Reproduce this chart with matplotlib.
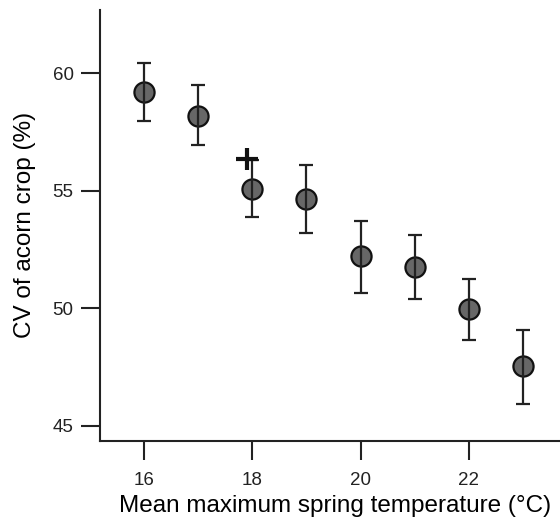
import numpy as np
import matplotlib.pyplot as plt

plt.rcParams['font.family'] = ['Liberation Sans', 'DejaVu Sans']

# data
temp = [16, 17, 18, 19, 20, 21, 22, 23]
cv = [59.2, 58.2, 55.1, 54.67, 52.21, 51.76, 49.96, 47.53]
err_hi = [60.46, 59.49, 56.3, 56.10, 53.73, 53.12, 51.26, 49.09]
err_lo = [57.96, 56.94, 53.89, 53.22, 50.65, 50.40, 48.67, 45.94]
plus_x = [17.9]
plus_y = [56.37]

cv = np.array(cv)
yerr = [cv - np.array(err_lo), np.array(err_hi) - cv]

fig = plt.figure(figsize=(5.6, 5.2), dpi=100)
ax = fig.add_axes([0.1786, 0.152, 0.8214, 0.829])

ax.plot(temp, cv, 'o', ms=14.5, mfc='#676767', mec='#111111', mew=1.6, zorder=2)
ax.errorbar(temp, cv, yerr=yerr, fmt='none', ecolor='#222222',
            elinewidth=1.6, capsize=5, capthick=1.6, zorder=3)
ax.plot(plus_x, plus_y, '+', ms=16, mew=3, color='#111111', zorder=4)

ax.set_xlim(15.19, 23.68)
ax.set_ylim(44.36, 62.7)
ax.set_xticks([16, 18, 20, 22])
ax.set_yticks([45, 50, 55, 60])

for s in ['top', 'right']:
    ax.spines[s].set_visible(False)
for s in ['left', 'bottom']:
    ax.spines[s].set_linewidth(1.5)
    ax.spines[s].set_color('#222222')

ax.tick_params(axis='both', direction='out', length=14, width=1.5,
               color='#222222', labelsize=13.5, labelcolor='#222222')
ax.tick_params(axis='x', pad=8)
ax.tick_params(axis='y', pad=5)

ax.set_xlabel('Mean maximum spring temperature (°C)', fontsize=17.5,
              labelpad=5, x=0.51)
ax.set_ylabel('CV of acorn crop (%)', fontsize=17.5, labelpad=12)

fig.savefig('out.png', dpi=100)
